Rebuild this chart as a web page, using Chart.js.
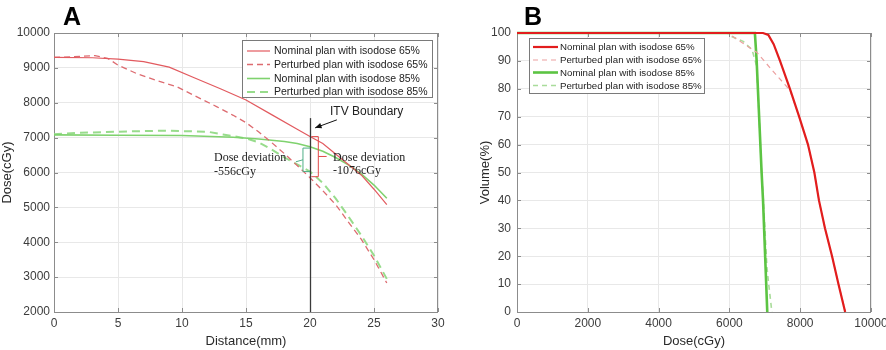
<!DOCTYPE html>
<html><head><meta charset="utf-8">
<script src="https://cdn.jsdelivr.net/npm/chart.js@4/dist/chart.umd.min.js"></script>
<style>
html,body{margin:0;padding:0;background:#fff;overflow:hidden}
#wrap{position:relative;width:886px;height:350px;background:#fff}
#cA{position:absolute;left:0;top:0}
#cB{position:absolute;left:446px;top:0}
</style></head><body>
<div id="wrap">
<canvas id="cA" width="446" height="350"></canvas>
<canvas id="cB" width="440" height="350"></canvas>
</div>
<script>
// ---------- Panel A data: dose profile vs distance ----------
const seriesLabels = ['Nominal plan with isodose 65%','Perturbed plan with isodose 65%','Nominal plan with isodose 85%','Perturbed plan with isodose 85%'];
const distTicks = [0,5,10,15,20,25,30];
const doseTicksA = [2000,3000,4000,5000,6000,7000,8000,9000,10000];

const distNom65 = [0,3,5,7,9,11,13,15,17,19,20,21,22,23,24,25,26];
const doseNom65 = [9300,9290,9250,9180,9020,8710,8400,8080,7660,7240,7030,6830,6530,6230,5930,5520,5080];
const distPert65 = [0,1.5,3.2,4.2,5,6.5,8,9.6,11,12.7,14,15,16,17,18,19,20,21,22,23,24,25,26];
const dosePert65 = [9300,9320,9350,9270,9080,8830,8640,8460,8200,7890,7640,7430,7160,6860,6540,6200,5850,5480,5080,4580,4090,3500,2830];
const distNom85 = [0,5,10,14,16,18,19,20,21,22,23,24,25,26];
const doseNom85 = [7080,7070,7060,7010,6960,6890,6830,6740,6610,6430,6220,5960,5640,5260];
const distPert85 = [0,2,5,8.5,12,13.2,14,15,16,17,18,19,20,21,22,23,24,25,26];
const dosePert85 = [7100,7140,7170,7200,7170,7090,7040,6980,6860,6660,6430,6230,6030,5700,5260,4740,4200,3620,2950];

// annotations (data coordinates)
const itvDistance = 20;
const itvDoseRange = [2000, 7560];
const itvLabel = 'ITV Boundary';
const itvLabelPos = [21.56, 7740];
const itvArrow = [[22.1, 7510],[20.4, 7280]];
const devLeftText = ['Dose deviation','-556cGy'];
const devLeftPos = [12.5, 6430, 6030];
const devRightText = ['Dose deviation','-1076cGy'];
const devRightPos = [21.8, 6430, 6060];
const bracket85 = {x:19.45, top:6700, bottom:6030, tickTo:20.0, notchTo:18.9};
const bracket65 = {x:20.65, top:7030, bottom:5880, tickTo:20.1, notchTo:21.3, notchAt:6460};

// ---------- Panel B data: DVH ----------
const doseTicksB = [0,2000,4000,6000,8000,10000];
const volTicks = [0,10,20,30,40,50,60,70,80,90,100];
const dvhDoseNom65 = [0,6950,7100,7250,7430,7710,7970,8220,8400,8530,8700,8900,9080,9270];
const dvhVolNom65  = [100,100,99.3,96,90,80,70,60,50,40,30,20,10,0];
const dvhDosePert65 = [0,5950,6300,6780,7150,7570,7710,7970,8220,8400,8530,8700,8900,9080,9280];
const dvhVolPert65  = [100,100,97,93,87.5,81.5,79.5,70,60,50,40,30,20,10,0];
const dvhDoseNom85 = [0,6720,6770,6840,6910,6950,7070];
const dvhVolNom85  = [100,100,90,70,50,40,0];
const dvhDosePert85 = [0,5950,6020,6390,6640,6730,6770,6840,6910,6960,7060,7110,7200];
const dvhVolPert85  = [100,100,99,97,94,90,88,70,50,40,16,10,0];

const zip = (xs, ys) => xs.map((v,i)=>({x:v, y:ys[i]}));
const FONT = '"Liberation Sans", Arial, Helvetica, sans-serif';
Chart.defaults.font.family = FONT;

const boxPlugin = {
  id:'boxPlugin',
  beforeDatasetsDraw(chart){
    const {ctx, chartArea:a, scales:{x,y}} = chart;
    ctx.save();
    ctx.strokeStyle = '#8c8c8c'; ctx.lineWidth = 1;
    ctx.strokeRect(Math.round(a.left)+0.5, Math.round(a.top)+0.5, Math.round(a.right-a.left)-1, Math.round(a.bottom-a.top));
    ctx.beginPath();
    x.ticks.forEach(t=>{const p=Math.round(x.getPixelForValue(t.value))+0.5; ctx.moveTo(p,a.bottom); ctx.lineTo(p,a.bottom-4); ctx.moveTo(p,a.top); ctx.lineTo(p,a.top+4);});
    y.ticks.forEach(t=>{const p=Math.round(y.getPixelForValue(t.value))+0.5; ctx.moveTo(a.left,p); ctx.lineTo(a.left+4,p); ctx.moveTo(a.right,p); ctx.lineTo(a.right-4,p);});
    ctx.stroke();
    ctx.restore();
  }
};

const legendPlugin = {
  id:'boxLegend',
  afterDraw(chart, args, o){
    const ctx = chart.ctx;
    ctx.save();
    ctx.fillStyle = '#fff'; ctx.fillRect(o.x, o.y, o.w, o.h);
    ctx.strokeStyle = '#7a7a7a'; ctx.lineWidth = 1;
    ctx.strokeRect(o.x+0.5, o.y+0.5, o.w, o.h);
    chart.data.datasets.forEach((d,i)=>{
      const yy = o.rows[i];
      ctx.beginPath();
      ctx.strokeStyle = d.borderColor; ctx.lineWidth = d.borderWidth;
      ctx.setLineDash(d.borderDash || []);
      ctx.moveTo(o.lx0, yy); ctx.lineTo(o.lx1, yy); ctx.stroke();
      ctx.setLineDash([]);
      ctx.fillStyle = '#222'; ctx.font = o.font; ctx.textBaseline = 'middle'; ctx.textAlign='left';
      ctx.fillText(d.label, o.tx, yy+0.5);
    });
    ctx.restore();
  }
};

const letterPlugin = {
  id:'panelLetter',
  afterDraw(chart, args, o){
    const ctx = chart.ctx; ctx.save();
    ctx.fillStyle = '#000'; ctx.font = 'bold 25px ' + FONT; ctx.textBaseline='alphabetic'; ctx.textAlign='left';
    ctx.fillText(o.text, o.x, o.y); ctx.restore();
  }
};

const annotPlugin = {
  id:'annotA',
  afterDatasetsDraw(chart){
    const {ctx, scales:{x,y}} = chart;
    const X = v=>x.getPixelForValue(v), Y = v=>y.getPixelForValue(v);
    ctx.save();
    ctx.strokeStyle = '#3a3a3a'; ctx.lineWidth = 1.3;
    ctx.beginPath(); const lx = Math.round(X(itvDistance))+0.5;
    ctx.moveTo(lx, Y(itvDoseRange[0])); ctx.lineTo(lx, Y(itvDoseRange[1])); ctx.stroke();
    const [t0,t1] = itvArrow;
    const ax0=X(t0[0]), ay0=Y(t0[1]), ax1=X(t1[0]), ay1=Y(t1[1]);
    ctx.strokeStyle='#111'; ctx.lineWidth=1;
    ctx.beginPath(); ctx.moveTo(ax0,ay0); ctx.lineTo(ax1,ay1); ctx.stroke();
    const ang = Math.atan2(ay1-ay0, ax1-ax0), hl=7;
    ctx.fillStyle='#111'; ctx.beginPath();
    ctx.moveTo(ax1,ay1);
    ctx.lineTo(ax1-hl*Math.cos(ang-0.4), ay1-hl*Math.sin(ang-0.4));
    ctx.lineTo(ax1-hl*Math.cos(ang+0.4), ay1-hl*Math.sin(ang+0.4));
    ctx.closePath(); ctx.fill();
    ctx.fillStyle='#222'; ctx.font='12px '+FONT; ctx.textBaseline='middle'; ctx.textAlign='left';
    ctx.fillText(itvLabel, X(itvLabelPos[0]), Y(itvLabelPos[1]));
    ctx.font='12px "Liberation Serif", "Times New Roman", serif'; ctx.fillStyle='#222';
    ctx.fillText(devLeftText[0], X(devLeftPos[0]), Y(devLeftPos[1]));
    ctx.fillText(devLeftText[1], X(devLeftPos[0]), Y(devLeftPos[2]));
    ctx.fillText(devRightText[0], X(devRightPos[0]), Y(devRightPos[1]));
    ctx.fillText(devRightText[1], X(devRightPos[0]), Y(devRightPos[2]));
    let b = bracket85;
    ctx.strokeStyle='#4fae86'; ctx.lineWidth=1;
    ctx.beginPath();
    ctx.moveTo(X(b.tickTo), Y(b.top)); ctx.lineTo(X(b.x), Y(b.top)); ctx.lineTo(X(b.x), Y(b.bottom)); ctx.lineTo(X(b.tickTo), Y(b.bottom));
    const gm = (b.top+b.bottom)/2;
    ctx.moveTo(X(b.x), Y(gm)); ctx.lineTo(X(b.notchTo), Y(gm)+2);
    ctx.stroke();
    b = bracket65;
    ctx.strokeStyle='#e04a4a';
    ctx.beginPath();
    ctx.moveTo(X(b.tickTo), Y(b.top)); ctx.lineTo(X(b.x), Y(b.top)); ctx.lineTo(X(b.x), Y(b.bottom)); ctx.lineTo(X(b.tickTo), Y(b.bottom));
    ctx.moveTo(X(b.x), Y(b.notchAt)); ctx.lineTo(X(b.notchTo), Y(b.notchAt));
    ctx.stroke();
    ctx.restore();
  }
};

function ds(label, data, color, width, dash){
  return {label, data, borderColor:color, backgroundColor:color, borderWidth:width, borderDash:dash||[],
          pointRadius:0, pointHoverRadius:0, tension:0, fill:false, clip:false};
}
function axisBase(min,max,step,tickPad,title,titlePad){
  return {type:'linear', min, max,
    ticks:{stepSize:step, color:'#3c3c3c', font:{size:12, family:FONT}, padding:tickPad, maxRotation:0, autoSkip:false, includeBounds:true,
           callback:v=>String(v)},
    grid:{color:'#e8e8e8', drawTicks:false, lineWidth:1},
    border:{display:false},
    title:{display:true, text:title, color:'#2a2a2a', font:{size:13, family:FONT}, padding:titlePad}
  };
}

// ---------- Chart A ----------
const xA = axisBase(0,30,5,4,'Distance(mm)',{top:0,bottom:1});
xA.afterBuildTicks = s=>{ s.ticks = distTicks.map(v=>({value:v})); };
xA.afterFit = s=>{ s.height=38; s.paddingLeft=0; s.paddingRight=0; };
const yA = axisBase(2000,10000,1000,4,'Dose(cGy)',{top:0,bottom:0});
yA.afterBuildTicks = s=>{ s.ticks = doseTicksA.map(v=>({value:v})); };
yA.afterFit = s=>{ s.width=54; s.paddingTop=0; s.paddingBottom=0; };

new Chart(document.getElementById('cA'), {
  type:'line',
  data:{datasets:[
    ds(seriesLabels[0], zip(distNom65, doseNom65), '#e25a5f', 1.2),
    ds(seriesLabels[1], zip(distPert65, dosePert65), '#dd6b70', 1.3, [6,4]),
    ds(seriesLabels[2], zip(distNom85, doseNom85), '#7fd26e', 1.6),
    ds(seriesLabels[3], zip(distPert85, dosePert85), '#98dc8c', 2, [8,5])
  ]},
  options:{
    responsive:false, animation:false, devicePixelRatio:1,
    layout:{padding:{left:0, top:33, right:8, bottom:0}},
    scales:{x:xA, y:yA},
    plugins:{legend:{display:false}, tooltip:{enabled:false},
      boxLegend:{x:242, y:40, w:190, h:57, rows:[51,64.5,78.5,92], lx0:247, lx1:270, tx:274, font:'10.5px '+FONT},
      panelLetter:{text:'A', x:63, y:25}
    }
  },
  plugins:[boxPlugin, annotPlugin, legendPlugin, letterPlugin]
});

// ---------- Chart B ----------
const xB = axisBase(0,10000,2000,4,'Dose(cGy)',{top:0,bottom:1});
xB.afterBuildTicks = s=>{ s.ticks = doseTicksB.map(v=>({value:v})); };
xB.afterFit = s=>{ s.height=38; s.paddingLeft=0; s.paddingRight=0; };
const yB = axisBase(0,100,10,6,'Volume(%)',{top:0,bottom:0});
yB.afterBuildTicks = s=>{ s.ticks = volTicks.map(v=>({value:v})); };
yB.afterFit = s=>{ s.width=39; s.paddingTop=0; s.paddingBottom=0; };

new Chart(document.getElementById('cB'), {
  type:'line',
  data:{datasets:[
    ds(seriesLabels[0], zip(dvhDoseNom65, dvhVolNom65), '#e21d1d', 2.2),
    ds(seriesLabels[1], zip(dvhDosePert65, dvhVolPert65), '#eca0a0', 1.2, [5,4]),
    ds(seriesLabels[2], zip(dvhDoseNom85, dvhVolNom85), '#5cc443', 2.6),
    ds(seriesLabels[3], zip(dvhDosePert85, dvhVolPert85), '#a9dc9a', 1.6, [5,4])
  ]},
  options:{
    responsive:false, animation:false, devicePixelRatio:1,
    layout:{padding:{left:32, top:33, right:15, bottom:0}},
    scales:{x:xB, y:yB},
    plugins:{legend:{display:false}, tooltip:{enabled:false},
      boxLegend:{x:83, y:38, w:175, h:55, rows:[47,60,72.5,85.5], lx0:87, lx1:112, tx:114, font:'9.7px '+FONT},
      panelLetter:{text:'B', x:78, y:25}
    }
  },
  plugins:[boxPlugin, legendPlugin, letterPlugin]
});
</script>
</body></html>
